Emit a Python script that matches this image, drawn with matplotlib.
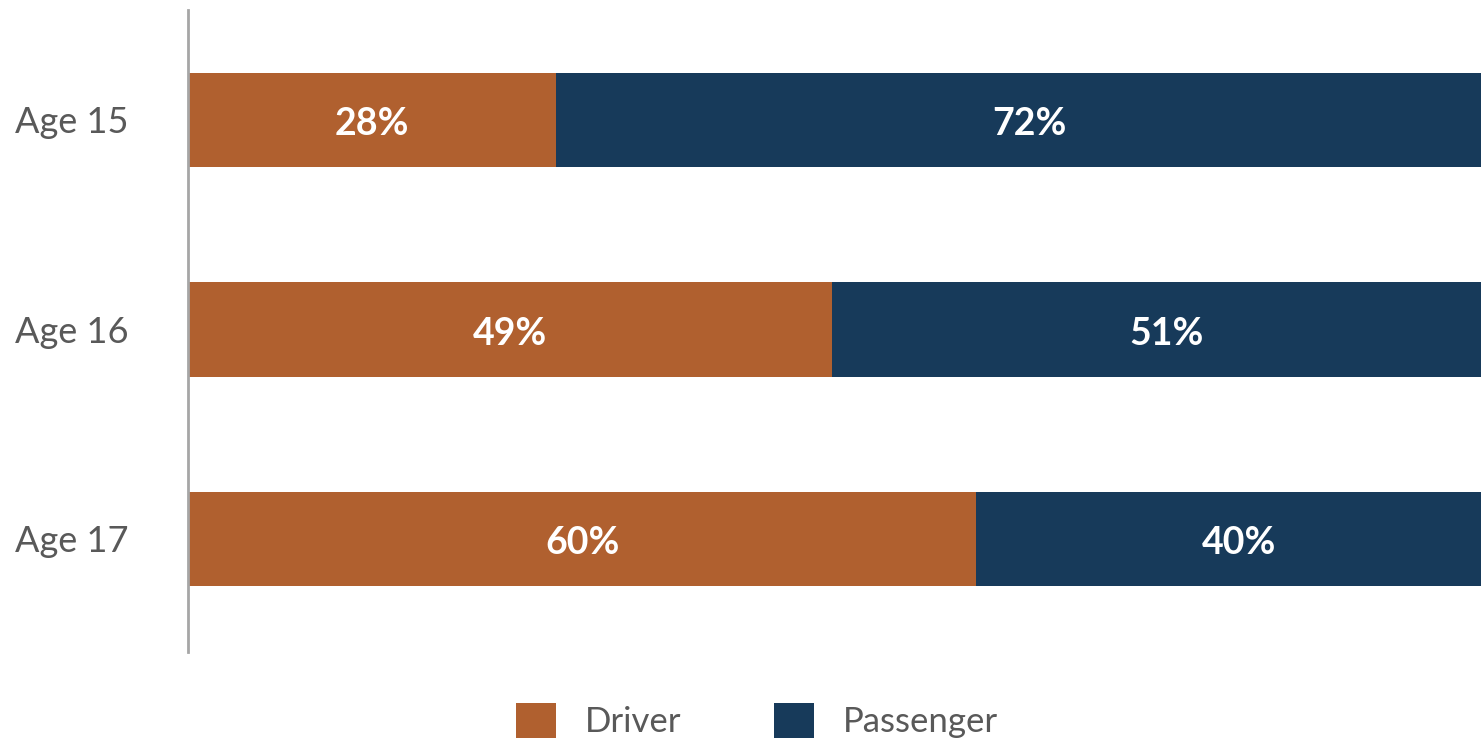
import matplotlib
matplotlib.use("Agg")
import matplotlib.pyplot as plt
from matplotlib.patches import Patch

categories = ["Age 15", "Age 16", "Age 17"]
driver = [28, 49, 60]
passenger = [72, 51, 40]
series_names = ["Driver", "Passenger"]
colors = ["#B0602F", "#173A5A"]

plt.rcParams['font.family'] = ['Lato', 'DejaVu Sans']

fig = plt.figure(figsize=(14.81, 7.40), dpi=100)
ax = fig.add_axes([188/1481, 1-652/740, 1-188/1481, (652-10)/740])

y = list(range(len(categories)))
h = 0.45
ax.barh(y, driver, height=h, color=colors[0], label=series_names[0])
ax.barh(y, passenger, left=driver, height=h, color=colors[1], label=series_names[1])

for i in y:
    ax.text(driver[i]/2, i + 0.02, f"{driver[i]}%", ha="center", va="center",
            color="white", fontsize=27, fontweight="bold")
    ax.text(driver[i] + passenger[i]/2, i + 0.02, f"{passenger[i]}%", ha="center", va="center",
            color="white", fontsize=27, fontweight="bold")

ax.set_xlim(0, 98.4)
ax.set_ylim(2.54, -0.525)
ax.set_yticks(y)
ax.set_yticklabels(categories, fontsize=26, color="#595959")
ax.tick_params(axis="y", length=0, pad=43)
ax.set_xticks([])
for s in ["top", "right", "bottom"]:
    ax.spines[s].set_visible(False)
ax.spines["left"].set_color("#A6A6A6")
ax.spines["left"].set_linewidth(2)

handles = [Patch(facecolor=c, label=n) for c, n in zip(colors, series_names)]
fig.legend(handles=handles, loc="lower center", bbox_to_anchor=(757/1481, -0.04),
           ncol=2, frameon=False, fontsize=25, labelcolor="#595959",
           handlelength=1.15, handleheight=1.2, handletextpad=0.85, columnspacing=2.65)

fig.savefig("out.png", dpi=100)
